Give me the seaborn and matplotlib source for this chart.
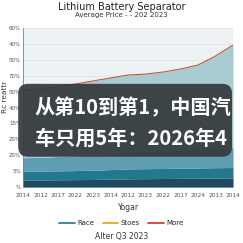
import numpy as np
import pandas as pd
import seaborn as sns
import matplotlib.pyplot as plt
from matplotlib.patches import FancyBboxPatch
from matplotlib.lines import Line2D

# Tick labels as printed on the chart
year_labels = ["2014", "2012", "2017", "2022", "2023", "2014", "2012",
               "2023", "2022", "2017", "2024", "2013", "2014"]
y_labels = ["%", "5%", "20%", "20%", "15%", "40%", "50%", "70%", "50%", "40%", "60%"]

# Stacked layers (in tick units)
navy = [0.45, 0.45, 0.46, 0.47, 0.48, 0.50, 0.52, 0.53, 0.54, 0.55, 0.56, 0.57, 0.58]
teal = [0.55, 0.55, 0.56, 0.57, 0.58, 0.60, 0.62, 0.63, 0.63, 0.64, 0.64, 0.65, 0.65]
mid_blue = [0.85, 0.87, 0.90, 0.93, 0.96, 1.00, 1.05, 1.08, 1.10, 1.13, 1.16, 1.20, 1.25]
# Top line (total)
total = [6.10, 6.16, 6.30, 6.48, 6.67, 6.86, 7.04, 7.10, 7.23, 7.42, 7.67, 8.24, 8.93]

x = np.arange(len(year_labels))
df = pd.DataFrame({"x": x, "total": total})

sns.set_theme(style="whitegrid")
plt.rcParams['font.family'] = ['DejaVu Sans']

fig = plt.figure(figsize=(2.43, 2.43), dpi=100)
ax = fig.add_axes([0.095, 0.23, 0.864, 0.655])
ax.set_facecolor("#edf2f5")

b1 = np.array(navy)
b2 = b1 + np.array(teal)
b3 = b2 + np.array(mid_blue)
top = np.array(total)
ax.fill_between(x, 0, b1, color="#1f4a60", lw=0)
ax.fill_between(x, b1, b2, color="#23778e", lw=0)
ax.fill_between(x, b2, b3, color="#5e9db2", lw=0)
ax.fill_between(x, b3, top, color="#a9cbd2", lw=0)
sns.lineplot(data=df, x="x", y="total", ax=ax, color="#c8553d", lw=0.8)

ax.set_xlim(0, len(x) - 1)
ax.set_ylim(0, 10)
ax.set_xticks(x)
ax.set_xticklabels(year_labels, fontsize=4.2, color="#444444")
ax.set_yticks(range(11))
ax.set_yticklabels(y_labels, fontsize=4.0, color="#444444")
ax.tick_params(axis="x", length=2, width=0.4, pad=2, colors="#555555")
ax.tick_params(axis="y", length=0, pad=1.5, colors="#555555")
ax.grid(True, axis="y", color="#dde4e8", lw=0.5)
ax.grid(False, axis="x")
for s in ["top", "right"]:
    ax.spines[s].set_visible(False)
ax.spines["left"].set_color("#666666")
ax.spines["left"].set_linewidth(0.5)
ax.spines["bottom"].set_visible(False)
ax.set_xlabel("Yogar", fontsize=5.5, color="#333333", labelpad=4)
ax.set_ylabel("Rc reattr", fontsize=5.3, color="#333333")
ax.yaxis.set_label_coords(-0.072, 0.57)

fig.text(0.5, 0.972, "Lithium Battery Separator", ha="center", va="center",
         fontsize=7, color="#222222")
fig.text(0.5, 0.937, "Average Price - - 202 2023", ha="center", va="center",
         fontsize=5, color="#333333")

handles = [Line2D([0], [0], color="#2f7fa0", lw=1.3),
           Line2D([0], [0], color="#f2a516", lw=1.3),
           Line2D([0], [0], color="#e23a2e", lw=1.3)]
fig.legend(handles, ["Race", "Stoes", "More"], loc="center", bbox_to_anchor=(0.5, 0.082),
           ncol=3, frameon=False, fontsize=5, handlelength=2.2, columnspacing=1.2,
           handletextpad=0.4)
fig.text(0.5, 0.025, "Alter Q3 2023", ha="center", va="center", fontsize=5.5,
         color="#333333")

# Dark overlay banner with text
box = FancyBboxPatch((0.075, 0.355), 0.88, 0.30, boxstyle="round,pad=0.0,rounding_size=0.04",
                     transform=fig.transFigure, facecolor="#33393c", edgecolor="none",
                     alpha=0.92, zorder=10)
fig.patches.append(box)
fig.text(0.142, 0.558, "从第10到第1，中国汽", ha="left", va="center", fontsize=14.5,
         fontweight="bold", color="white", family=["Noto Sans CJK SC", "DejaVu Sans"], zorder=11)
fig.text(0.142, 0.433, "车只用5年：2026年4", ha="left", va="center", fontsize=14.5,
         fontweight="bold", color="white", family=["Noto Sans CJK SC", "DejaVu Sans"], zorder=11)

fig.savefig("out.png", dpi=100)
